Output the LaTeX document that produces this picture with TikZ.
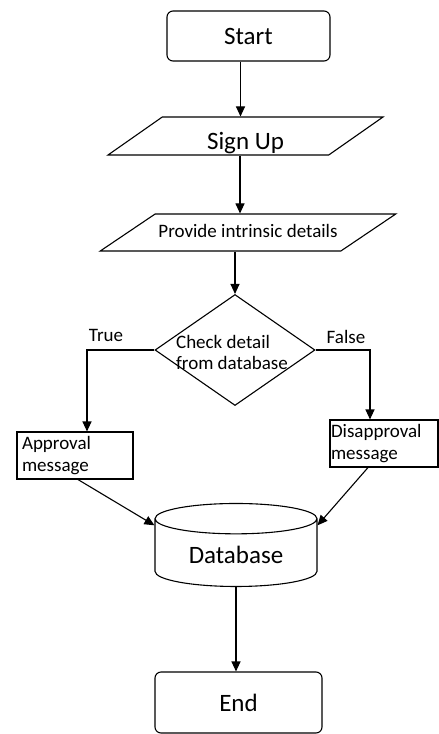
\documentclass[tikz,border=0pt]{standalone}
\usepackage{fontspec}
\setmainfont{Carlito}
\usetikzlibrary{shapes.geometric,arrows.meta}
\begin{document}
\begin{tikzpicture}[x=1pt,y=-1pt,line width=1.1pt,>={Triangle[length=10pt,width=9pt]}]
\useasboundingbox (0,0) rectangle (439,734);
\node[draw,rounded corners=6pt,minimum width=163,minimum height=50,font=\fontsize{25}{30}\selectfont] (start) at (248.5,36) {Start};
\node[draw,trapezium,trapezium left angle=35,trapezium right angle=145,trapezium stretches body,minimum width=275,inner ysep=0pt,text height=32,text depth=6,font=\fontsize{25}{30}\selectfont] (signup) at (245.5,136) {Sign Up};
\node[draw,trapezium,trapezium left angle=34,trapezium right angle=146,trapezium stretches body,minimum width=280,inner ysep=0pt,text height=23,text depth=14,font=\fontsize{19}{22}\selectfont] (provide) at (248,232.5) {Provide intrinsic details};
\node[draw,diamond,minimum width=160,minimum height=111,inner sep=0pt] (check) at (235,350) {};
\node[align=left,font=\fontsize{19}{21}\selectfont] (checktext) at (232,352) {Check detail\\from database};
\node[font=\fontsize{19}{22}\selectfont] (true) at (106,335) {True};
\node[font=\fontsize{19}{22}\selectfont] (false) at (346,337) {False};
\node[draw,minimum width=116,minimum height=47,text width=106,inner xsep=5pt,align=left,font=\fontsize{19}{22}\selectfont] (approval) at (75,455.5) {Approval\\message};
\node[draw,minimum width=108,minimum height=47,text width=106,inner xsep=1pt,align=left,font=\fontsize{19}{22}\selectfont] (disapproval) at (384,443.5) {Disapproval\\message};
\node[draw,cylinder,shape border rotate=90,aspect=0.3,minimum width=162,minimum height=83,font=\fontsize{25}{30}\selectfont] (database) at (236,555) {Database};
\node[draw,rounded corners=6pt,minimum width=167,minimum height=61,font=\fontsize{25}{30}\selectfont] (end) at (238.5,702.5) {End};
\draw[->] ([xshift=-8pt]start.south) -- ([xshift=-8pt]start.south |- signup.north);
\draw[->] ([xshift=-5.5pt]signup.south) -- ([xshift=-5.5pt]signup.south |- provide.north);
\draw[->] (provide.south -| check.north) -- (check.north);
\draw[->] (check.west) -| ([xshift=12pt]approval.north);
\draw[->] (check.east) -| ([xshift=-14pt]disapproval.north);
\draw[->] ([xshift=3pt]approval.south) -- (database.160);
\draw[->] ([xshift=-16pt]disapproval.south) -- (database.20);
\draw[->] (database.south) -- (database.south |- end.north);
\end{tikzpicture}
\end{document}
